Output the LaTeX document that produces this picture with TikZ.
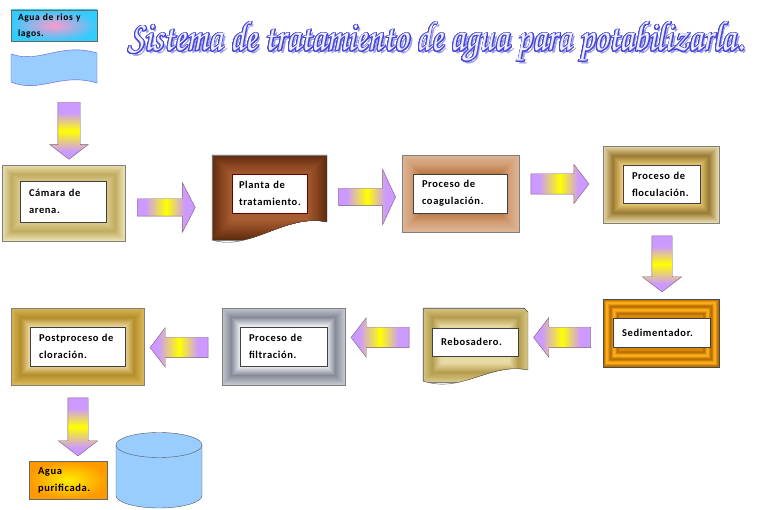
\documentclass[tikz,border=0pt]{standalone}
\usepackage{fontspec}
\setmainfont{Carlito}
\newfontfamily\boxfont[LetterSpace=6]{Carlito}
\usepackage{xcolor}
\usepackage[copies]{contour}
\usetikzlibrary{calc}
\usetikzlibrary{shapes.arrows}
\hyphenpenalty=10000
\exhyphenpenalty=10000

\definecolor{lilac}{HTML}{CC99FF}
\definecolor{riverfill}{HTML}{99CCFF}
\definecolor{riverline}{HTML}{5A5AE6}
\definecolor{skyc}{HTML}{33CCFF}
\definecolor{pinkc}{HTML}{FF99CC}
\definecolor{orangec}{HTML}{FF9900}
\definecolor{sunc}{HTML}{FFEE00}
\definecolor{titleline}{HTML}{4848D8}
\definecolor{titlefill}{HTML}{EEEEFF}
\definecolor{titleshadow}{HTML}{A0A0E8}
% frame colours: edge / middle / inner
\definecolor{sandA}{HTML}{EAE0B0}
\definecolor{sandB}{HTML}{C2AC62}
\definecolor{sandC}{HTML}{DCCB8C}
\definecolor{brownA}{HTML}{5E2C0E}
\definecolor{brownB}{HTML}{8A4520}
\definecolor{brownC}{HTML}{A65E32}
\definecolor{clayA}{HTML}{DDB596}
\definecolor{clayB}{HTML}{D29C74}
\definecolor{clayC}{HTML}{B87640}
\definecolor{flocA}{HTML}{E8D9AA}
\definecolor{flocB}{HTML}{9A7A32}
\definecolor{flocC}{HTML}{ECCC78}
\definecolor{sedA}{HTML}{B86E00}
\definecolor{sedB}{HTML}{FFAE1A}
\definecolor{reboA}{HTML}{D6C682}
\definecolor{reboB}{HTML}{B49C4C}
\definecolor{reboC}{HTML}{E8DAA4}
\definecolor{greyA}{HTML}{C4C6CE}
\definecolor{greyB}{HTML}{868A98}
\definecolor{greyC}{HTML}{F0F0F4}
\definecolor{goldA}{HTML}{D8B654}
\definecolor{goldB}{HTML}{B48E2A}
\definecolor{goldC}{HTML}{EEDCA4}

\pgfdeclarehorizontalshading{arrowgrad}{100bp}{color(0bp)=(lilac); color(25bp)=(lilac); color(32bp)=(lilac); color(50bp)=(yellow); color(66bp)=(lilac); color(75bp)=(lilac); color(100bp)=(lilac)}

\contourlength{0.9pt}
\contournumber{28}
\newcommand{\titletext}{\resizebox{615pt}{30pt}{\fontencoding{OT1}\fontfamily{pzc}\fontseries{mb}\fontshape{it}\selectfont Sistema de tratamiento de agua para potabilizarla.}}

\newcommand{\bevel}[5]{% node, edge, middle, inner colour, depth
\foreach \k in {0,...,#5}{%
    \pgfmathsetmacro\bandt{\k/#5}%
    \ifdim\bandt pt<0.5pt
        \pgfmathsetmacro\bandp{200*\bandt}\colorlet{bandc}{#3!\bandp!#2}%
    \else
        \pgfmathsetmacro\bandp{200*\bandt-100}\colorlet{bandc}{#4!\bandp!#3}%
    \fi
    \fill[bandc] ([shift={(\k,\k)}]#1.north west) rectangle ([shift={(-\k,-\k)}]#1.south east);
}%
\draw[gray] (#1.north west) rectangle (#1.south east);}

\tikzstyle{stationbox} = [
    inner sep=0pt
    ]
\tikzstyle{stationtext} = [
    draw=black!75,
    fill=white,
    align=left,
    inner xsep=9pt,
    inner ysep=0pt,
    font=\boxfont\bfseries\fontsize{10.5}{17}\selectfont
    ]
\tikzstyle{blockarrow} = [
    single arrow,
    shade,
    shading=arrowgrad,
    draw=gray!70!violet,
    inner sep=10pt,
    minimum height=57,
    single arrow head extend=9.5pt,
    single arrow tip angle=105
    ]

\begin{document}
\begin{tikzpicture}[x=1pt,y=-1pt]
\useasboundingbox[fill=white] (0,0) rectangle (760,510);

% title
\node[anchor=base west, text=titleshadow] (sombra) at (127.5,53.5) {\titletext};
\node[anchor=base west, text=titlefill] (titulo) at (125,51) {\contour{titleline}{\titletext}};

% source
\node[stationtext, draw=black!60, shade, inner color=pinkc, outer color=skyc, text width=72pt, inner xsep=7pt, minimum height=31, font=\boxfont\bfseries\fontsize{9.5}{16}\selectfont] (fuente) at (54,25.5) {Agua de rios y\\lagos.};
\filldraw[fill=riverfill, draw=riverline] (11,54) .. controls (40,64) and (60,42) .. (97,53) -- (97,83) .. controls (60,72) and (40,94) .. (11,82) -- cycle;
\node[blockarrow, shading angle=90, shape border rotate=270, minimum height=57, inner sep=11pt, single arrow head extend=8pt] (b0) at (69,126.5) {};

% first row
\node[stationbox, minimum width=123, minimum height=76] (camara) at (63.5,203) {};
\bevel{camara}{sandA}{sandB}{sandC}{18}
\node[stationtext, text width=68pt, minimum height=41] (camaraT) at (63,201.5) {Cámara de\\arena.};

\node[stationbox, minimum width=115, minimum height=85] (planta) at (269.5,197.5) {};
\begin{scope}
\clip (212,155) -- (327,155) -- (327,222) .. controls (285,213) and (250,252) .. (212,240) -- cycle;
\bevel{planta}{brownA}{brownB}{brownC}{20}
\end{scope}
\draw[gray!60!black] (212,155) -- (327,155) -- (327,222) .. controls (285,213) and (250,252) .. (212,240) -- cycle;
\node[stationtext, draw=red!40!black, text width=61pt, inner xsep=7pt, minimum height=39] (plantaT) at (269.5,193.5) {Planta de\\tratamiento.};

\node[stationbox, minimum width=117, minimum height=77] (coag) at (460.5,193.5) {};
\bevel{coag}{clayA}{clayB}{clayC}{19}
\node[stationtext, text width=76pt, minimum height=39] (coagT) at (460,193.5) {Proceso de\\coagulación.};

\node[stationbox, minimum width=116, minimum height=77] (floc) at (661,184.5) {};
\bevel{floc}{flocA}{flocB}{flocC}{19}
\node[stationtext, text width=59pt, minimum height=38] (flocT) at (661.5,184) {Proceso de\\floculación.};

\node[blockarrow, inner sep=8.5pt, single arrow head extend=16pt, single arrow tip angle=125, minimum height=58] (a1) at (164,207.5) {};
\node[blockarrow, inner sep=8.5pt, single arrow head extend=19pt, single arrow tip angle=130, minimum height=57] (a2) at (365,197) {};
\node[blockarrow, minimum height=58] (a3) at (556,184) {};
\node[blockarrow, shading angle=90, shape border rotate=270, minimum height=56] (a4) at (662,260) {};

% second row
\node[stationbox, minimum width=116, minimum height=68] (sedi) at (661,333) {};
\foreach \k in {0,...,16}{%
    \pgfmathsetmacro\bandp{50+50*cos(\k*50)}%
    \fill[sedA!\bandp!sedB] ([shift={(\k,\k)}]sedi.north west) rectangle ([shift={(-\k,-\k)}]sedi.south east);
}
\draw[gray!60!black] (sedi.north west) rectangle (sedi.south east);
\node[stationtext, text width=79pt, minimum height=29] (sediT) at (661.5,332.5) {Sedimentador.};

\node[stationbox, minimum width=105, minimum height=74] (rebo) at (475.5,345) {};
\begin{scope}
\clip (423,308) -- (524,308) -- (528,312) -- (528,370) .. controls (490,362) and (462,394) .. (423,381) -- cycle;
\bevel{rebo}{reboA}{reboB}{reboC}{18}
\end{scope}
\draw[gray!60!black] (423,308) -- (524,308) -- (528,312) -- (528,370) .. controls (490,362) and (462,394) .. (423,381) -- cycle;
\node[stationtext, text width=68pt, minimum height=28] (reboT) at (475,342) {Rebosadero.};

\node[stationbox, minimum width=123, minimum height=77] (filt) at (283.5,346.5) {};
\bevel{filt}{greyA}{greyB}{greyC}{18}
\node[stationtext, text width=69pt, minimum height=39] (filtT) at (283.5,346.5) {Proceso de\\filtración.};

\node[stationbox, minimum width=133, minimum height=77] (clor) at (77.5,346.5) {};
\bevel{clor}{goldA}{goldB}{goldC}{19}
\node[stationtext, text width=77pt, minimum height=39] (clorT) at (77.5,346.5) {Postproceso de\\cloración.};

\node[blockarrow, shape border rotate=180] (a5) at (566,337.5) {};
\node[blockarrow, shape border rotate=180, minimum height=58] (a6) at (384,337.5) {};
\node[blockarrow, shape border rotate=180, minimum height=58] (a7) at (183,347.5) {};
\node[blockarrow, shading angle=90, shape border rotate=270, minimum height=58] (a8) at (78,423) {};

% end
\node[stationtext, draw=black!60, shade, inner color=sunc, outer color=orangec, text width=60pt, minimum height=38] (pura) at (68,480) {Agua\\purificada.};
\fill[riverfill] (116,445) -- (116,495.5) .. controls (116,502.4) and (135.3,508) .. (159,508) .. controls (182.7,508) and (202,502.4) .. (202,495.5) -- (202,445) -- cycle;
\draw[gray!70!black] (116,445) -- (116,495.5) .. controls (116,502.4) and (135.3,508) .. (159,508) .. controls (182.7,508) and (202,502.4) .. (202,495.5) -- (202,445);
\filldraw[fill=riverfill, draw=gray!70!black] (159,445) ellipse [x radius=43, y radius=12.5];
\end{tikzpicture}
\end{document}
